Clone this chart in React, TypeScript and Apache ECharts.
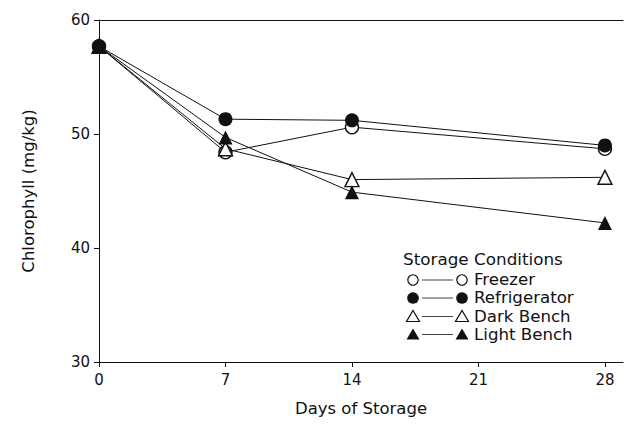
import React, { useEffect, useRef } from "react";
import * as echarts from "echarts";

const days = [0, 7, 14, 28];
const xTicks = [0, 7, 14, 21, 28];
const freezer = [57.7, 48.4, 50.6, 48.7];
const refrigerator = [57.7, 51.3, 51.2, 49.0];
const darkBench = [57.7, 48.7, 46.0, 46.2];
const lightBench = [57.7, 49.7, 44.9, 42.2];
const legendTitle = "Storage Conditions";
const legendNames = ["Freezer", "Refrigerator", "Dark Bench", "Light Bench"];

const FONT = "DejaVu Sans";
const INK = "#111";

const pairs = (vals: number[]) => vals.map((v, i) => [days[i], v]);

export default function App() {
  const ref = useRef<HTMLDivElement>(null);
  useEffect(() => {
    document.body.style.margin = "0";
    const chart = echarts.init(ref.current!, null, { renderer: "svg" });

    const mk = (
      name: string,
      vals: number[],
      symbol: string,
      filled: boolean,
      size: number,
      z: number
    ) => ({
      name,
      type: "line",
      data: pairs(vals),
      symbol,
      symbolSize: size,
      z,
      lineStyle: { color: INK, width: 1 },
      itemStyle: {
        color: filled ? INK : "#fff",
        borderColor: INK,
        borderWidth: filled ? 0 : 1.4,
      },
      emphasis: { disabled: true },
    });

    const rowYs = [280, 298, 316.5, 334.5];
    const legendEls: any[] = [];
    legendEls.push({
      type: "text",
      x: 403,
      y: 260,
      scaleX: 1.05,
      style: {
        text: legendTitle,
        font: `16px "${FONT}"`,
        fill: INK,
        verticalAlign: "middle",
      },
    });
    const markerFor = (i: number, cx: number, cy: number) => {
      const filled = i === 1 || i === 3;
      const style = filled
        ? { fill: INK }
        : { fill: "#fff", stroke: INK, lineWidth: 1.2 };
      if (i < 2) {
        return { type: "circle", shape: { cx, cy, r: filled ? 5.8 : 5.2 }, style };
      }
      return {
        type: "polygon",
        shape: {
          points: [
            [cx, cy - 6],
            [cx + 6.5, cy + 5],
            [cx - 6.5, cy + 5],
          ],
        },
        style,
      };
    };
    legendNames.forEach((nm, i) => {
      const cy = rowYs[i];
      legendEls.push(markerFor(i, 413, cy));
      legendEls.push({
        type: "line",
        shape: { x1: 422, y1: cy, x2: 453, y2: cy },
        style: { stroke: INK, lineWidth: 0.8 },
      });
      legendEls.push(markerFor(i, 462, cy));
      legendEls.push({
        type: "text",
        x: 474,
        y: cy,
        scaleX: 1.04,
        style: {
          text: nm,
          font: `16px "${FONT}"`,
          fill: INK,
          verticalAlign: "middle",
        },
      });
    });

    chart.setOption({
      animation: false,
      backgroundColor: "#fff",
      grid: { left: 99, top: 20, right: 12, bottom: 64, containLabel: false },
      xAxis: [
        {
          type: "value",
          min: 0,
          max: 29,
          position: "bottom",
          name: "Days of Storage",
          nameLocation: "middle",
          nameGap: 38,
          nameTextStyle: { fontFamily: FONT, fontSize: 16.5, color: INK },
          axisLine: { show: true, lineStyle: { color: INK, width: 1 } },
          axisTick: {
            show: true,
            length: 5,
            customValues: xTicks,
            lineStyle: { color: INK },
          },
          axisLabel: {
            customValues: xTicks,
            fontFamily: FONT,
            fontSize: 15,
            color: INK,
            margin: 10,
          },
          splitLine: { show: false },
        },
        {
          type: "value",
          min: 0,
          max: 29,
          position: "top",
          axisLine: { show: true, lineStyle: { color: INK, width: 1 } },
          axisTick: { show: false },
          axisLabel: { show: false },
          splitLine: { show: false },
        },
      ],
      yAxis: {
        type: "value",
        min: 30,
        max: 60,
        interval: 10,
        name: "Chlorophyll (mg/kg)",
        nameLocation: "middle",
        nameGap: 62,
        nameTextStyle: { fontFamily: FONT, fontSize: 16.5, color: INK },
        axisLine: { show: true, lineStyle: { color: INK, width: 1 } },
        axisTick: { show: true, length: 5, lineStyle: { color: INK } },
        axisLabel: { fontFamily: FONT, fontSize: 15, color: INK, margin: 9 },
        splitLine: { show: false },
      },
      series: [
        mk("Freezer", freezer, "circle", false, 13, 2),
        mk("Dark Bench", darkBench, "triangle", false, 14, 3),
        mk("Refrigerator", refrigerator, "circle", true, 14, 4),
        mk("Light Bench", lightBench, "triangle", true, 14, 5),
      ],
      graphic: legendEls,
    });
    return () => chart.dispose();
  }, []);
  return <div ref={ref} style={{ width: 635, height: 426 }} />;
}
